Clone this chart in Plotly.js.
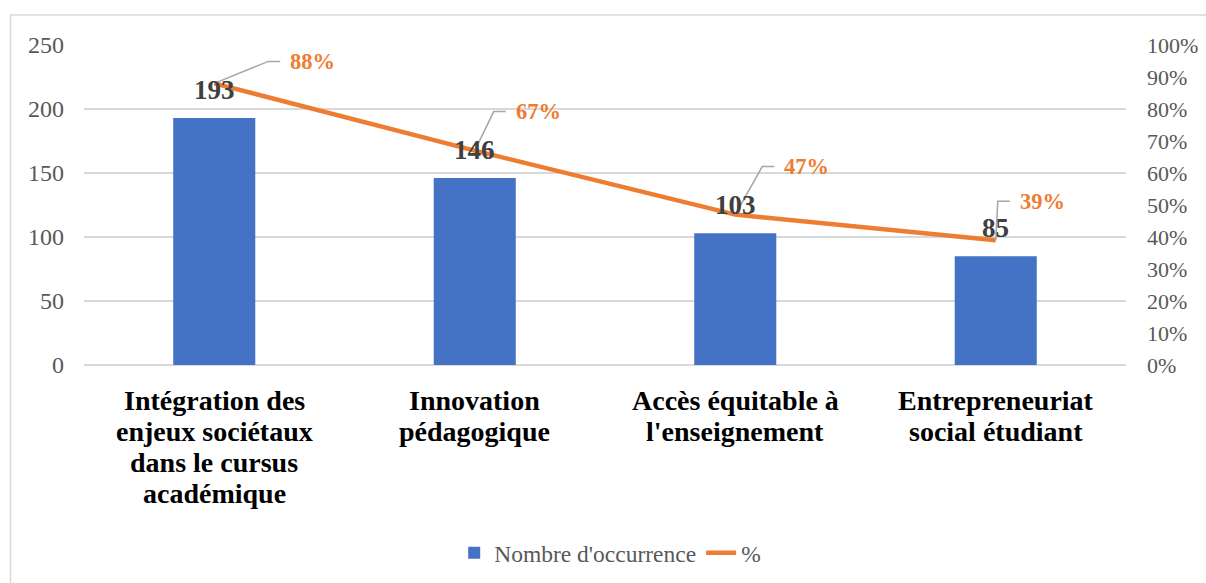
<!DOCTYPE html>
<html>
<head>
<meta charset="utf-8">
<script src="https://cdn.plot.ly/plotly-3.0.1.min.js"></script>
<style>html,body{margin:0;padding:0;background:#fff;}#chart{width:1206px;height:583px;}</style>
</head>
<body>
<div id="chart"></div>
<script>
const categories = [
  "Intégration des<br>enjeux sociétaux<br>dans le cursus<br>académique",
  "Innovation<br>pédagogique",
  "Accès équitable à<br>l'enseignement",
  "Entrepreneuriat<br>social étudiant"
];
const occurrences = [193, 146, 103, 85];
const percentages = [0.88, 0.67, 0.47, 0.39];
const barName = "Nombre d'occurrence";
const lineName = "%";
// label offsets (pixels) for percentage labels: [dx, dy up]
const pctLabelOffsets = [[74, 22], [39, 39], [47, 48], [22, 39]];

const serif = "'Liberation Serif', 'Times New Roman', serif";
const idx = categories.map((_, i) => i);

const traces = [
  {
    type: 'bar', x: categories, y: occurrences, name: barName,
    marker: {color: '#4472C4'}, width: 0.315, hoverinfo: 'y'
  },
  {
    type: 'scatter', mode: 'lines', x: categories, y: percentages, name: lineName,
    yaxis: 'y2', line: {color: '#ED7D31', width: 4.5}
  }
];

const annotations = [];
const shapes = [];
idx.forEach(i => {
  // category label, one line at a time (tighter line spacing than tick labels allow)
  categories[i].split('<br>').forEach((line, k) => {
    annotations.push({
      x: i, xref: 'x', y: 0, yref: 'paper', text: '<b>' + line + '</b>',
      showarrow: false, xanchor: 'center', yanchor: 'middle', yshift: -(35.5 + 31 * k),
      font: {family: serif, size: 28, color: '#000'}
    });
  });
  annotations.push({
    x: i, y: occurrences[i], xref: 'x', yref: 'y', text: '<b>' + occurrences[i] + '</b>',
    showarrow: false, yanchor: 'bottom', yshift: 11,
    font: {family: serif, size: 27, color: '#404040'}
  });
  const [dx, dy] = pctLabelOffsets[i];
  annotations.push({
    x: i, y: percentages[i], xref: 'x', yref: 'y2',
    text: '<b>' + Math.round(percentages[i] * 100) + '%</b>',
    showarrow: false, xanchor: 'left', yanchor: 'middle', xshift: dx, yshift: dy,
    font: {family: serif, size: 22.5, color: '#ED7D31'}
  });
  shapes.push({
    type: 'path', xref: 'x', yref: 'y2', xsizemode: 'pixel', ysizemode: 'pixel',
    xanchor: i, yanchor: percentages[i],
    path: 'M 0,0 L ' + (dx - 20) + ',' + dy + ' L ' + (dx - 8) + ',' + dy,
    line: {color: '#A6A6A6', width: 1.5}
  });
});

// outer chart border
shapes.push({
  type: 'rect', xref: 'paper', yref: 'paper', x0: -0.0705, x1: 1.085, y0: -0.72, y1: 1.094,
  line: {color: '#D9D9D9', width: 1.5}, fillcolor: 'rgba(0,0,0,0)', layer: 'below'
});

const layout = {
  width: 1206, height: 583,
  margin: {l: 84, r: 80, t: 45, b: 218, autoexpand: false},
  paper_bgcolor: '#fff', plot_bgcolor: '#fff',
  font: {family: serif, color: '#595959'},
  showlegend: true,
  legend: {
    orientation: 'h', x: 0.505, xanchor: 'center', y: -0.5875, yanchor: 'middle',
    font: {family: serif, size: 23.5, color: '#595959'}, traceorder: 'normal'
  },
  xaxis: {
    type: 'category', showgrid: false, zeroline: false, showline: false, ticks: '',
    showticklabels: false, automargin: false
  },
  yaxis: {
    range: [0, 250], dtick: 50, showgrid: true, gridcolor: '#D9D9D9', gridwidth: 1.5,
    zeroline: true, zerolinecolor: '#D9D9D9', zerolinewidth: 1.5, showline: false, ticks: '',
    tickfont: {family: serif, size: 24, color: '#595959'}, ticklabelstandoff: 19, automargin: false
  },
  yaxis2: {
    range: [0, 1], dtick: 0.1, tickformat: '.0%', overlaying: 'y', side: 'right',
    showgrid: false, zeroline: false, showline: false, ticks: '',
    tickfont: {family: serif, size: 22, color: '#595959'}, ticklabelstandoff: 20, automargin: false
  },
  annotations: annotations,
  shapes: shapes
};

Plotly.newPlot('chart', traces, layout, {displayModeBar: false, staticPlot: true});
</script>
</body>
</html>
